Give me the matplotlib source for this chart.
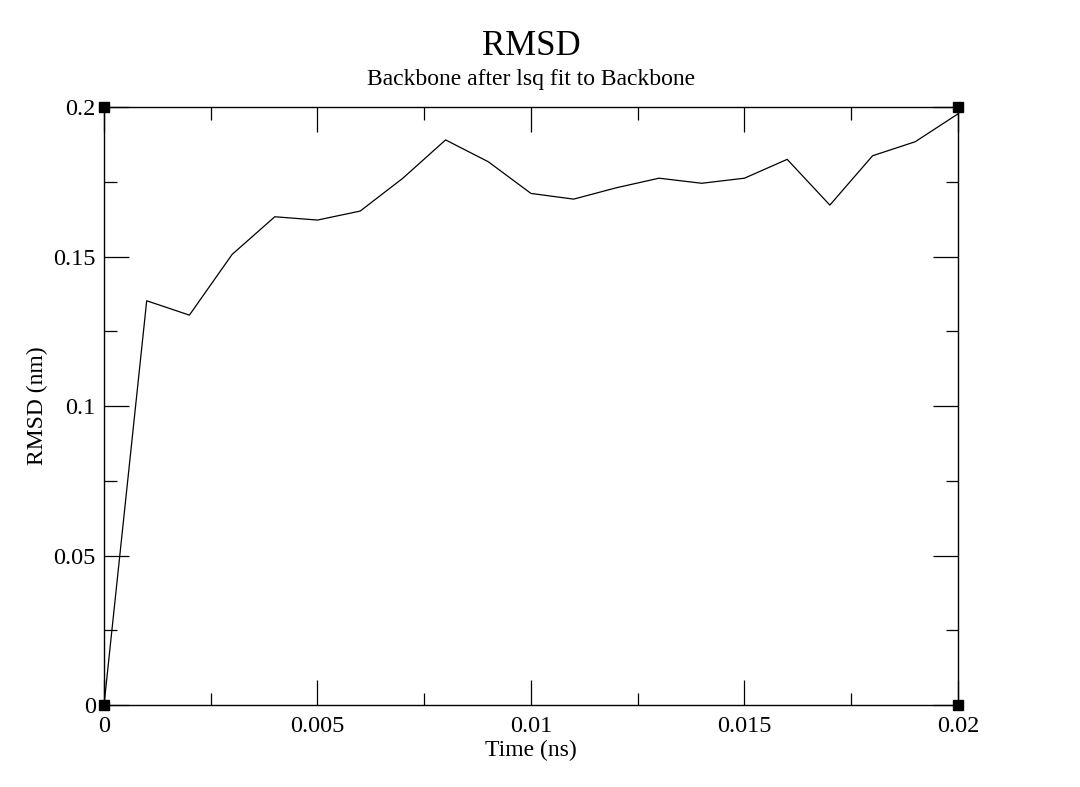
import numpy as np
import matplotlib.pyplot as plt
from matplotlib.ticker import MultipleLocator, FormatStrFormatter

# dane RMSD
time_ns = [0.000, 0.001, 0.002, 0.003, 0.004, 0.005, 0.006, 0.007, 0.008, 0.009, 0.010,
           0.011, 0.012, 0.013, 0.014, 0.015, 0.016, 0.017, 0.018, 0.019, 0.020]
rmsd_nm = [0.0, 0.1352, 0.1304, 0.1507, 0.1633, 0.1622, 0.1652, 0.1762, 0.1890, 0.1817, 0.1711,
           0.1692, 0.1730, 0.1762, 0.1745, 0.1762, 0.1825, 0.1672, 0.1837, 0.1884, 0.1977]

plt.rcParams['font.family'] = ['Liberation Serif', 'DejaVu Serif']

fig = plt.figure(figsize=(10.8, 7.87), dpi=100)
ax = fig.add_axes([0.0963, 0.1042, 0.7907, 0.7598])

ax.plot(time_ns, rmsd_nm, color='black', lw=0.9)

ax.set_xlim(0, 0.02)
ax.set_ylim(0, 0.2)
ax.xaxis.set_major_locator(MultipleLocator(0.005))
ax.xaxis.set_minor_locator(MultipleLocator(0.0025))
ax.yaxis.set_major_locator(MultipleLocator(0.05))
ax.yaxis.set_minor_locator(MultipleLocator(0.025))
ax.xaxis.set_major_formatter(FormatStrFormatter('%g'))
ax.yaxis.set_major_formatter(FormatStrFormatter('%g'))

ax.tick_params(which='both', direction='in', top=True, right=True, labelsize=17.5, width=0.9)
ax.tick_params(which='major', length=18)
ax.tick_params(which='minor', length=9)
ax.tick_params(axis='x', which='major', pad=8)
ax.tick_params(axis='y', which='major', pad=6)
for s in ax.spines.values():
    s.set_linewidth(1.0)

# czarne kwadraty w rogach osi
ax.plot([0, 1, 0, 1], [0, 0, 1, 1], 's', color='black', ms=7,
        transform=ax.transAxes, clip_on=False)

ax.set_xlabel('Time (ns)', fontsize=17, labelpad=2)
ax.set_ylabel('RMSD (nm)', fontsize=17, labelpad=4)

fig.text(0.4917, 0.941, 'RMSD', ha='center', va='center', fontsize=25)
fig.text(0.4917, 0.899, 'Backbone after lsq fit to Backbone', ha='center', va='center', fontsize=17)

plt.savefig('out.png', dpi=100)
